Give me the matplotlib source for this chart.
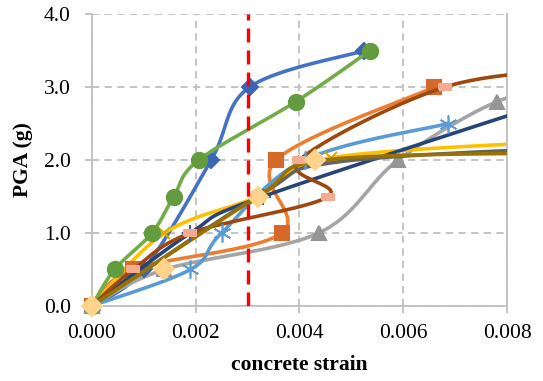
import numpy as np
import matplotlib
matplotlib.use('Agg')
import matplotlib.pyplot as plt

# datos (deformacion del concreto vs PGA)
blue_x = [0, 0.0010, 0.0023, 0.00304, 0.00525]
blue_y = [0, 0.5, 2.0, 3.0, 3.5]

orange_x = [0, 0.0008, 0.00366, 0.00355, 0.0066]
orange_y = [0, 0.5, 1.0, 2.0, 3.0]

gray_x = [0, 0.0014, 0.00437, 0.0059, 0.0078, 0.0090]
gray_y = [0, 0.5, 1.0, 2.0, 2.8, 2.95]

gold_x = [0, 0.0014, 0.0032, 0.0046, 0.0095]
gold_y = [0, 1.0, 1.5, 2.03, 2.27]

lblue_x = [0, 0.0019, 0.0025, 0.0041, 0.00686]
lblue_y = [0, 0.5, 1.0, 2.0, 2.5]

green_x = [0, 0.00044, 0.00116, 0.00158, 0.00206, 0.00393, 0.00536]
green_y = [0, 0.5, 1.0, 1.5, 2.0, 2.8, 3.5]

dblue_x = [0, 0.0019, 0.0033, 0.0095]
dblue_y = [0, 1.0, 1.5, 2.95]

brown_x = [0, 0.0008, 0.0019, 0.00455, 0.0040, 0.0068, 0.0095]
brown_y = [0, 0.5, 1.0, 1.5, 2.0, 3.0, 3.25]

dgray_x = [0, 0.0033, 0.0047, 0.0095]
dgray_y = [0, 1.55, 1.97, 2.18]

dgold_x = [0, 0.0032, 0.0045, 0.0095]
dgold_y = [0, 1.5, 2.0, 2.1]

peach_x = [0, 0.0014, 0.0032, 0.0043]
peach_y = [0, 0.5, 1.5, 2.0]

limit_strain = 0.003

x_ticks = [0, 0.002, 0.004, 0.006, 0.008]
y_ticks = [0, 1, 2, 3, 4]


def smooth(xs, ys, n=30):
    # suavizado tipo Excel (Catmull-Rom con curvas de Bezier)
    p = np.column_stack([xs, ys]).astype(float)
    p = np.vstack([p[0], p, p[-1]])
    t = np.linspace(0, 1, n)[:, None]
    out = []
    for i in range(1, len(p) - 2):
        p0, p1, p2, p3 = p[i - 1], p[i], p[i + 1], p[i + 2]
        c1 = p1 + (p2 - p0) / 6
        c2 = p2 - (p3 - p1) / 6
        seg = ((1 - t) ** 3) * p1 + 3 * ((1 - t) ** 2) * t * c1 + 3 * (1 - t) * t ** 2 * c2 + t ** 3 * p2
        out.append(seg)
    out = np.vstack(out)
    return out[:, 0], out[:, 1]


fig = plt.figure(figsize=(5.43, 3.81), dpi=100)
ax = fig.add_axes([0.169, 0.197, 0.765, 0.766])

xmax = 0.008


def serie(xs, ys, color, marker=None, mfc=None, ms=9, mew=1.5, line=True, z=2):
    if line:
        sx, sy = smooth(xs, ys)
        ax.plot(sx, sy, color=color, lw=2.6, zorder=z, solid_capstyle='round')
    if marker is not None:
        mx = [a for a in xs if a <= xmax]
        my = [b for a, b in zip(xs, ys) if a <= xmax]
        c = mfc if mfc else color
        ax.plot(mx, my, ls='none', marker=marker, ms=ms, mfc=c, mec=c, mew=mew,
                zorder=z + 0.5, clip_on=False)


rect = [(-1, -0.55), (1, -0.55), (1, 0.55), (-1, 0.55), (-1, -0.55)]

serie(blue_x, blue_y, '#4472C4', 'D', '#3A66B5', ms=8, z=2)
serie(orange_x, orange_y, '#ED7D31', 's', '#D4692A', ms=10, z=2.1)
serie(gray_x, gray_y, '#A5A5A5', '^', '#959595', ms=10, z=2.2)
serie(gold_x, gold_y, '#FFC000', 'x', '#E0A800', ms=9, z=2.3)
serie(lblue_x, lblue_y, '#5B9BD5', (6, 2, 0), '#5B9BD5', ms=13, mew=1.2, z=2.4)
serie(green_x, green_y, '#70AD47', 'o', '#629C3F', ms=11, z=2.5)
serie(dblue_x, dblue_y, '#264478', '+', '#3A5FA0', ms=11, z=2.6)
serie(brown_x, brown_y, '#9E480E', rect, '#F4AC90', ms=8, z=2.7)
serie(dgray_x, dgray_y, '#636363', z=2.8)
serie(dgold_x, dgold_y, '#997300', z=2.9)
serie(peach_x, peach_y, '#FFD38B', 'D', '#FFD38B', ms=10, line=False, z=3.1)

# limite de deformacion
ax.axvline(limit_strain, color='#FF0000', lw=2.4, dashes=(4.2, 2.4), zorder=4)

ax.set_xlim(0, xmax)
ax.set_ylim(0, 4)
ax.set_xticks(x_ticks)
ax.set_yticks(y_ticks)
ax.set_xticklabels(['%.3f' % v for v in x_ticks])
ax.set_yticklabels(['%.1f' % v for v in y_ticks])

ax.grid(True, color='#BFBFBF', lw=1.3, dashes=(4, 3))
ax.set_axisbelow(True)
for s in ax.spines.values():
    s.set_color('#BFBFBF')
    s.set_linewidth(1.3)
ax.spines['top'].set_visible(False)

ax.tick_params(colors='#BFBFBF', length=5, width=1.3, labelcolor='black',
               labelsize=15.5)
ax.tick_params(axis='x', pad=8)
ax.tick_params(axis='y', pad=10)
for lab in ax.get_xticklabels() + ax.get_yticklabels():
    lab.set_fontfamily('Liberation Serif')

ax.set_xlabel('concrete strain', fontsize=15.5, fontweight='bold',
              fontfamily='Liberation Serif', labelpad=9)
ax.set_ylabel('PGA (g)', fontsize=15.5, fontweight='bold',
              fontfamily='Liberation Serif', labelpad=8)

fig.savefig('out.png', dpi=100)
